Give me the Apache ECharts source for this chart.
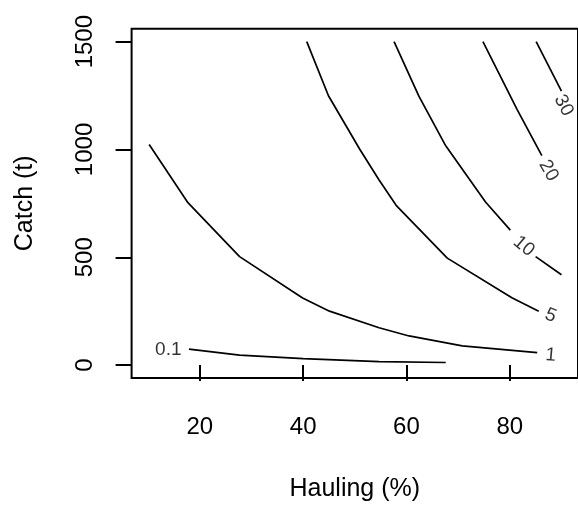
<!DOCTYPE html>
<html>
<head>
<meta charset="utf-8">
<script src="https://cdn.jsdelivr.net/npm/echarts@6/dist/echarts.min.js"></script>
<style>
html,body{margin:0;padding:0;background:#fff;}
#c{width:578px;height:507px;}
</style>
</head>
<body>
<div id="c"></div>
<script>
// Axis tick values
const xTicks = [20, 40, 60, 80];
const yTicks = [0, 500, 1000, 1500];

// Contour lines: [Hauling %, Catch t]
const contour01 = [[17.9, 74], [27.7, 46], [40, 30], [54.7, 16], [67.6, 12]];
const contour1 = [[10.2, 1023], [17.7, 753], [27.7, 503], [39.9, 311], [45.1, 250], [54.7, 173], [60.5, 135], [70.8, 89], [85.3, 58]];
const contour5 = [[40.7, 1500], [44.9, 1249], [50.9, 1003], [54.7, 858], [58.0, 741], [67.9, 496], [80.4, 312], [85.6, 250]];
const contour10a = [[57.6, 1500], [62.4, 1247], [67.6, 1017], [75.3, 756], [80.1, 626]];
const contour10b = [[85.0, 503], [90.0, 419]];
const contour20 = [[74.8, 1500], [81.4, 1186], [86.2, 971]];
const contour30 = [[85.1, 1500], [90.0, 1270]];

// Contour labels
const labelText = ['0.1', '1', '5', '10', '20', '30'];
const labelX = [13.9, 87.9, 87.9, 82.7, 87.5, 90.4];
const labelY = [69, 45, 229, 551, 902, 1204];
const labelRot = [0, -5, -22, -40, -60, -62];

const FONT = '"Liberation Sans", Arial, sans-serif';
const lineStyle = {color: '#000', width: 1.7};

function lineSeries(data) {
  return {type: 'line', data: data, symbol: 'none', lineStyle: lineStyle, silent: true, animation: false, clip: false};
}

const labelData = labelText.map((t, i) => ({
  name: t,
  value: [labelX[i], labelY[i]],
  label: {rotate: labelRot[i]}
}));

const chart = echarts.init(document.getElementById('c'), null, {renderer: 'canvas'});
chart.setOption({
  backgroundColor: '#fff',
  animation: false,
  grid: {left: 131.6, top: 28.7, width: 447.8, height: 352, show: true, borderColor: '#000', borderWidth: 2, containLabel: false},
  xAxis: {
    type: 'value', min: 6.8, max: 93.2,
    name: 'Hauling (%)', nameLocation: 'middle', nameGap: 99,
    nameTextStyle: {fontFamily: FONT, fontSize: 25, color: '#000'},
    axisLine: {show: false},
    axisTick: {show: true, inside: false, length: 16, lineStyle: {color: '#000', width: 2}, customValues: xTicks},
    axisLabel: {show: true, margin: 37, fontFamily: FONT, fontSize: 24, color: '#000', customValues: xTicks, formatter: v => String(v)},
    splitLine: {show: false}
  },
  yAxis: {
    type: 'value', min: -60, max: 1560,
    name: 'Catch (t)', nameLocation: 'middle', nameGap: 94, nameRotate: 90,
    nameTextStyle: {fontFamily: FONT, fontSize: 25, color: '#000'},
    axisLine: {show: false},
    axisTick: {show: true, inside: false, length: 16, lineStyle: {color: '#000', width: 2}, customValues: yTicks},
    axisLabel: {show: true, rotate: 90, margin: 34, fontFamily: FONT, fontSize: 24, color: '#000', customValues: yTicks, formatter: v => String(v)},
    splitLine: {show: false}
  },
  series: [
    lineSeries(contour01),
    lineSeries(contour1),
    lineSeries(contour5),
    lineSeries(contour10a),
    lineSeries(contour10b),
    lineSeries(contour20),
    lineSeries(contour30),
    {
      type: 'scatter', data: labelData, symbol: 'circle', symbolSize: 0, silent: true,
      label: {show: true, position: 'inside', formatter: p => p.name, fontFamily: FONT, fontSize: 19, color: '#000', textBorderWidth: 0, align: 'center', verticalAlign: 'middle'}
    }
  ]
});
</script>
</body>
</html>
